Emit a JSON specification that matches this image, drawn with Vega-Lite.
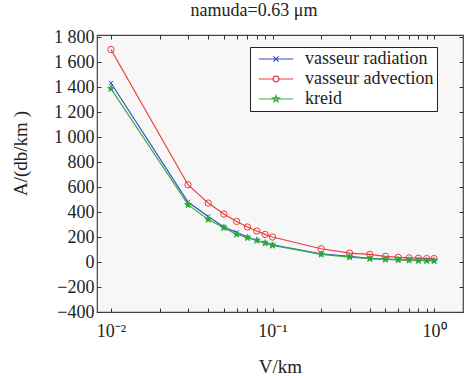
{
  "$schema": "https://vega.github.io/schema/vega-lite/v6.json",
  "width": 366,
  "height": 277,
  "autosize": {"type": "none"},
  "padding": {"left": 97, "top": 35, "right": 13, "bottom": 64},
  "background": "white",
  "config": {
    "font": "Liberation Serif",
    "view": {"fill": "#f7f7f7", "stroke": "#444", "strokeWidth": 1.2},
    "axis": {"domain": false, "grid": false, "tickColor": "#333", "labelColor": "#222", "titleColor": "#222", "labelFont": "Liberation Serif", "titleFont": "Liberation Serif", "labelFontSize": 18, "titleFontSize": 19, "titleFontWeight": "normal"}
  },
  "title": {"text": "namuda=0.63 μm", "fontSize": 18, "fontWeight": "normal", "font": "Liberation Serif", "dx": -26, "offset": 8, "color": "#222"},
  "data": {"values": [
    {"V": 0.01, "series": "vasseur radiation", "A": 1435},
    {"V": 0.03, "series": "vasseur radiation", "A": 481},
    {"V": 0.04, "series": "vasseur radiation", "A": 366},
    {"V": 0.05, "series": "vasseur radiation", "A": 281},
    {"V": 0.06, "series": "vasseur radiation", "A": 238},
    {"V": 0.07, "series": "vasseur radiation", "A": 201},
    {"V": 0.08, "series": "vasseur radiation", "A": 171},
    {"V": 0.09, "series": "vasseur radiation", "A": 155},
    {"V": 0.1, "series": "vasseur radiation", "A": 139},
    {"V": 0.2, "series": "vasseur radiation", "A": 67},
    {"V": 0.3, "series": "vasseur radiation", "A": 46},
    {"V": 0.4, "series": "vasseur radiation", "A": 30},
    {"V": 0.5, "series": "vasseur radiation", "A": 24},
    {"V": 0.6, "series": "vasseur radiation", "A": 19},
    {"V": 0.7, "series": "vasseur radiation", "A": 17},
    {"V": 0.8, "series": "vasseur radiation", "A": 14},
    {"V": 0.9, "series": "vasseur radiation", "A": 13},
    {"V": 1.0, "series": "vasseur radiation", "A": 12},
    {"V": 0.01, "series": "vasseur advection", "A": 1704},
    {"V": 0.03, "series": "vasseur advection", "A": 620},
    {"V": 0.04, "series": "vasseur advection", "A": 473},
    {"V": 0.05, "series": "vasseur advection", "A": 385},
    {"V": 0.06, "series": "vasseur advection", "A": 326},
    {"V": 0.07, "series": "vasseur advection", "A": 281},
    {"V": 0.08, "series": "vasseur advection", "A": 249},
    {"V": 0.09, "series": "vasseur advection", "A": 222},
    {"V": 0.1, "series": "vasseur advection", "A": 201},
    {"V": 0.2, "series": "vasseur advection", "A": 107},
    {"V": 0.3, "series": "vasseur advection", "A": 72},
    {"V": 0.4, "series": "vasseur advection", "A": 62},
    {"V": 0.5, "series": "vasseur advection", "A": 46},
    {"V": 0.6, "series": "vasseur advection", "A": 38},
    {"V": 0.7, "series": "vasseur advection", "A": 34},
    {"V": 0.8, "series": "vasseur advection", "A": 31},
    {"V": 0.9, "series": "vasseur advection", "A": 28},
    {"V": 1.0, "series": "vasseur advection", "A": 28},
    {"V": 0.01, "series": "kreid", "A": 1390},
    {"V": 0.03, "series": "kreid", "A": 460},
    {"V": 0.04, "series": "kreid", "A": 342},
    {"V": 0.05, "series": "kreid", "A": 275},
    {"V": 0.06, "series": "kreid", "A": 222},
    {"V": 0.07, "series": "kreid", "A": 195},
    {"V": 0.08, "series": "kreid", "A": 174},
    {"V": 0.09, "series": "kreid", "A": 152},
    {"V": 0.1, "series": "kreid", "A": 134},
    {"V": 0.2, "series": "kreid", "A": 62},
    {"V": 0.3, "series": "kreid", "A": 40},
    {"V": 0.4, "series": "kreid", "A": 27},
    {"V": 0.5, "series": "kreid", "A": 22},
    {"V": 0.6, "series": "kreid", "A": 17},
    {"V": 0.7, "series": "kreid", "A": 15},
    {"V": 0.8, "series": "kreid", "A": 12},
    {"V": 0.9, "series": "kreid", "A": 11},
    {"V": 1.0, "series": "kreid", "A": 10}
  ]},
  "resolve": {"axis": {"x": "independent", "y": "independent"}},
  "layer": [
    {
      "mark": {"type": "line", "strokeWidth": 1.2, "clip": true},
      "encoding": {
        "x": {"field": "V", "type": "quantitative",
          "scale": {"type": "log", "domain": [0.0082, 1.51], "nice": false},
          "axis": {"title": "V/km", "titleY": 45, "orient": "bottom",
            "values": [0.01,0.02,0.03,0.04,0.05,0.06,0.07,0.08,0.09,0.1,0.2,0.3,0.4,0.5,0.6,0.7,0.8,0.9,1],
            "labelExpr": "datum.value == 0.01 ? '10⁻²' : datum.value == 0.1 ? '10⁻¹' : datum.value == 1 ? '10⁰' : ''",
            "labelOverlap": false, "labelBound": false, "labelFlush": false, "tickSize": -4, "labelPadding": 14}},
        "y": {"field": "A", "type": "quantitative",
          "scale": {"domain": [-400, 1820], "nice": false, "zero": false},
          "axis": {"title": "A/(db/km )", "titleX": -67, "titleY": 118, "orient": "left",
            "values": [-400,-200,0,200,400,600,800,1000,1200,1400,1600,1800],
            "labelExpr": "replace(format(datum.value, ','), ',', ' ')",
            "labelOverlap": false, "labelBound": false, "labelFlush": false, "tickSize": -4, "labelPadding": 7}},
        "color": {"field": "series", "type": "nominal",
          "scale": {"domain": ["vasseur radiation", "vasseur advection", "kreid"], "range": ["#3a4fc8", "#f03a3a", "#33b040"]},
          "legend": {"title": null, "orient": "none", "legendX": 153, "legendY": 12,
            "fillColor": "white", "strokeColor": "#222", "padding": 3, "rowPadding": 2,
            "labelFont": "Liberation Serif", "labelFontSize": 18, "labelColor": "#222", "labelLimit": 300,
            "symbolSize": 130, "symbolStrokeWidth": 1.2, "symbolOffset": 14, "labelOffset": 20,
            "encode": {"symbols": {"update": {
              "shape": {"signal": "datum.value == 'vasseur radiation' ? 'M-3,0H3M-0.45,-0.45L0.45,0.45M-0.45,0.45L0.45,-0.45' : datum.value == 'vasseur advection' ? 'M-3,0H-0.5M0.5,0H3M-0.5,0A0.5,0.5 0 1,1 0.5,0A0.5,0.5 0 1,1 -0.5,0' : 'M-3,0H3M0,-0.6L0.14,-0.2L0.57,-0.19L0.23,0.07L0.35,0.49L0,0.24L-0.35,0.49L-0.23,0.07L-0.57,-0.19L-0.14,-0.2Z'"}
            }}}}
        }
      }
    },
    {
      "transform": [{"filter": "datum.series == 'vasseur radiation'"}],
      "mark": {"type": "point", "size": 30, "strokeWidth": 1, "opacity": 1, "clip": true, "color": "#3a4fc8",
        "shape": "M-0.8,-0.8L0.8,0.8M-0.8,0.8L0.8,-0.8"},
      "encoding": {
        "x": {"field": "V", "type": "quantitative",
          "axis": {"orient": "top", "title": null, "labels": false,
            "values": [0.01,0.02,0.03,0.04,0.05,0.06,0.07,0.08,0.09,0.1,0.2,0.3,0.4,0.5,0.6,0.7,0.8,0.9,1],
            "tickSize": -4}},
        "y": {"field": "A", "type": "quantitative",
          "axis": {"orient": "right", "title": null, "labels": false,
            "values": [-400,-200,0,200,400,600,800,1000,1200,1400,1600,1800], "tickSize": -4}}
      }
    },
    {
      "transform": [{"filter": "datum.series == 'vasseur advection'"}],
      "mark": {"type": "point", "size": 40, "strokeWidth": 1, "opacity": 1, "clip": true, "color": "#f03a3a", "shape": "circle", "filled": false},
      "encoding": {
        "x": {"field": "V", "type": "quantitative", "axis": null},
        "y": {"field": "A", "type": "quantitative", "axis": null}
      }
    },
    {
      "transform": [{"filter": "datum.series == 'kreid'"}],
      "mark": {"type": "point", "size": 40, "strokeWidth": 1, "opacity": 1, "clip": true, "stroke": "#33b040", "fill": "#2f9a3a", "filled": true,
        "shape": "M0,-1.1L0.25,-0.35L1.05,-0.34L0.4,0.13L0.65,0.9L0,0.43L-0.65,0.9L-0.4,0.13L-1.05,-0.34L-0.25,-0.35Z"},
      "encoding": {
        "x": {"field": "V", "type": "quantitative", "axis": null},
        "y": {"field": "A", "type": "quantitative", "axis": null}
      }
    }
  ]
}
